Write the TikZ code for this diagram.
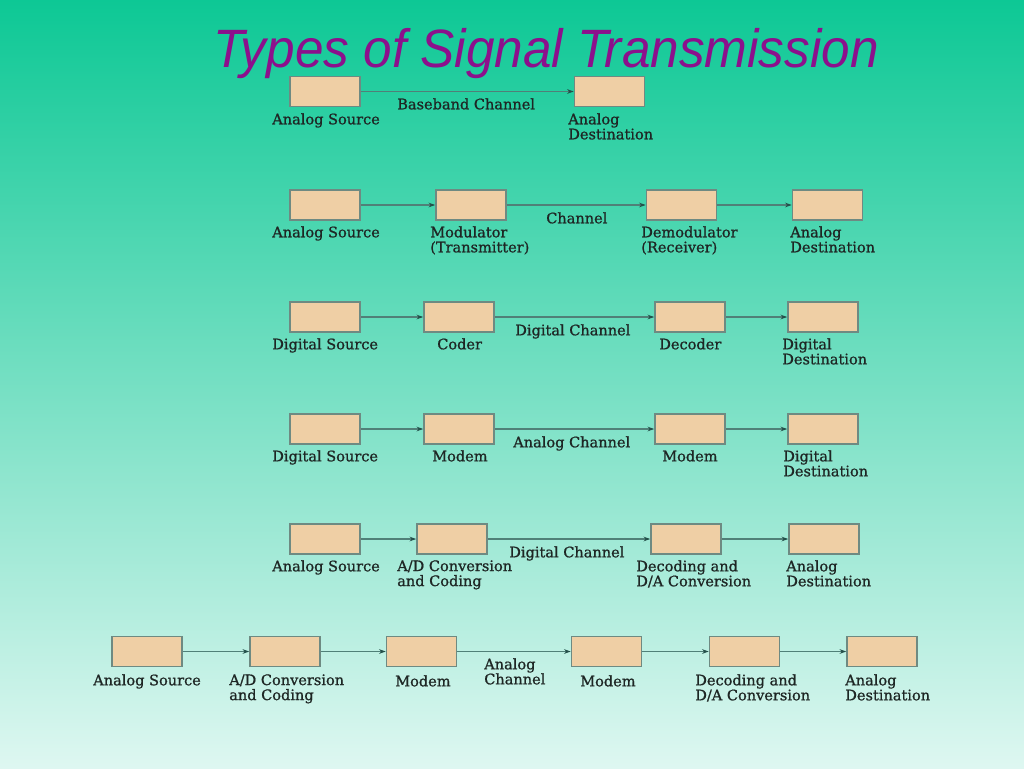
\documentclass[tikz,border=0pt]{standalone}
\usepackage{fontspec}
\setmainfont{DejaVu Serif}
\newfontfamily\labfont[FakeBold=0.9]{DejaVu Serif}
\newfontfamily\titlefont{Liberation Sans}
\usetikzlibrary{arrows.meta}
\definecolor{bgtop}{RGB}{13,200,149}
\definecolor{bgmid}{RGB}{128,217,186}
\definecolor{bgbot}{RGB}{222,247,241}
\definecolor{boxfill}{RGB}{239,207,165}
\definecolor{boxline}{RGB}{110,138,130}
\definecolor{wire}{RGB}{80,128,120}
\definecolor{tipc}{RGB}{36,80,74}
\definecolor{labc}{RGB}{30,38,36}
\definecolor{titlec}{RGB}{140,16,140}
\begin{document}
\begin{tikzpicture}[x=0.75pt,y=-0.75pt,
  blk/.style={draw=boxline, line width=1.2pt, fill=boxfill, minimum width=52.5pt, minimum height=22.5pt, inner sep=0pt},
  lab/.style={anchor=north west, inner sep=0pt, align=left, text=labc, font=\labfont\fontsize{10.9}{11.25}\selectfont},
  link/.style={draw=wire, line width=1pt, -{Stealth[length=5pt,width=3.5pt,color=tipc]}}
]
\useasboundingbox (0,0) rectangle (1024,768);
\shade[top color=bgtop, middle color=bgmid, bottom color=bgbot] (0,0) rectangle (1024,768);

\node (title) [anchor=base, inner sep=0pt, text=titlec, font=\titlefont\itshape\fontsize{40.5}{48}\selectfont] at (546,67) {\scalebox{0.95}[1]{Types of Signal Transmission}};

% Row 1
\node[blk] (a1) at (325,91.5) {};
\node[blk] (a2) at (609.5,91.5) {};
\draw[link] (a1) -- (a2);
\node[lab] (a1l) at (272,113) {Analog Source};
\node[lab] (a2l) at (568,113) {Analog\\Destination};
\node[lab] (ach) at (397,98) {Baseband Channel};

% Row 2
\node[blk] (b1) at (325,205) {};
\node[blk] (b2) at (471,205) {};
\node[blk] (b3) at (681.5,205) {};
\node[blk] (b4) at (827.5,205) {};
\draw[link] (b1) -- (b2);
\draw[link] (b2) -- (b3);
\draw[link] (b3) -- (b4);
\node[lab] (b1l) at (272,226) {Analog Source};
\node[lab] (b2l) at (430,226) {Modulator\\(Transmitter)};
\node[lab] (b3l) at (641,226) {Demodulator\\(Receiver)};
\node[lab] (b4l) at (790,226) {Analog\\Destination};
\node[lab] (bch) at (546,212) {Channel};

% Row 3
\node[blk] (c1) at (325,317) {};
\node[blk] (c2) at (459,317) {};
\node[blk] (c3) at (690,317) {};
\node[blk] (c4) at (823,317) {};
\draw[link] (c1) -- (c2);
\draw[link] (c2) -- (c3);
\draw[link] (c3) -- (c4);
\node[lab] (c1l) at (272,338) {Digital Source};
\node[lab] (c2l) at (437,338) {Coder};
\node[lab] (c3l) at (659,338) {Decoder};
\node[lab] (c4l) at (782,338) {Digital\\Destination};
\node[lab] (cch) at (515,324) {Digital Channel};

% Row 4
\node[blk] (d1) at (325,429) {};
\node[blk] (d2) at (459,429) {};
\node[blk] (d3) at (690,429) {};
\node[blk] (d4) at (823,429) {};
\draw[link] (d1) -- (d2);
\draw[link] (d2) -- (d3);
\draw[link] (d3) -- (d4);
\node[lab] (d1l) at (272,450) {Digital Source};
\node[lab] (d2l) at (432,450) {Modem};
\node[lab] (d3l) at (662,450) {Modem};
\node[lab] (d4l) at (783,450) {Digital\\Destination};
\node[lab] (dch) at (513,436) {Analog Channel};

% Row 5
\node[blk] (e1) at (325,539) {};
\node[blk] (e2) at (452,539) {};
\node[blk] (e3) at (686,539) {};
\node[blk] (e4) at (824,539) {};
\draw[link] (e1) -- (e2);
\draw[link] (e2) -- (e3);
\draw[link] (e3) -- (e4);
\node[lab] (e1l) at (272,560) {Analog Source};
\node[lab] (e2l) at (397,560) {A/D Conversion\\and Coding};
\node[lab] (e3l) at (636,560) {Decoding and\\D/A Conversion};
\node[lab] (e4l) at (786,560) {Analog\\Destination};
\node[lab] (ech) at (509,546) {Digital Channel};

% Row 6
\node[blk] (f1) at (147,651.5) {};
\node[blk] (f2) at (285,651.5) {};
\node[blk] (f3) at (421.5,651.5) {};
\node[blk] (f4) at (606.5,651.5) {};
\node[blk] (f5) at (744.5,651.5) {};
\node[blk] (f6) at (882,651.5) {};
\draw[link] (f1) -- (f2);
\draw[link] (f2) -- (f3);
\draw[link] (f3) -- (f4);
\draw[link] (f4) -- (f5);
\draw[link] (f5) -- (f6);
\node[lab] (f1l) at (93,674) {Analog Source};
\node[lab] (f2l) at (229,674) {A/D Conversion\\and Coding};
\node[lab] (f3l) at (395,675) {Modem};
\node[lab] (fch) at (484,658) {Analog\\Channel};
\node[lab] (f4l) at (580,675) {Modem};
\node[lab] (f5l) at (695,674) {Decoding and\\D/A Conversion};
\node[lab] (f6l) at (845,674) {Analog\\Destination};
\end{tikzpicture}
\end{document}
